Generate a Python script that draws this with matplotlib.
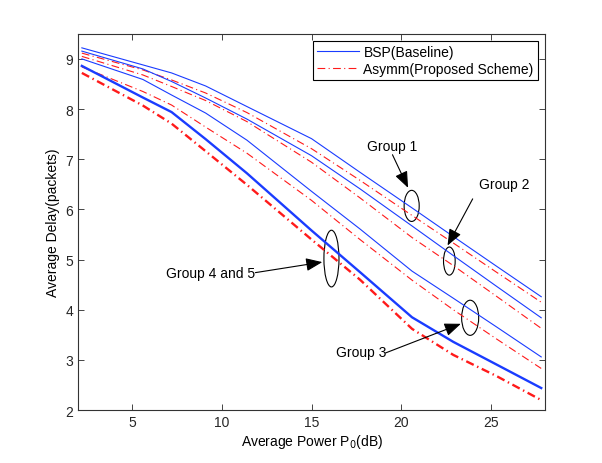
import matplotlib
matplotlib.use("Agg")
import matplotlib.pyplot as plt
from matplotlib.patches import Ellipse

plt.rcParams['font.family'] = ['Liberation Sans', 'DejaVu Sans']
plt.rcParams['font.size'] = 10

# average power P0 (dB)
power = [2.2, 5.6, 7.2, 9.1, 11.4, 15.0, 17.7, 20.6, 22.9, 25.3, 27.8]

# average delay (packets), BSP baseline
bsp_g1 = [9.22, 8.88, 8.72, 8.46, 8.05, 7.41, 6.74, 6.03, 5.46, 4.87, 4.26]
bsp_g2 = [9.155, 8.80, 8.55, 8.22, 7.80, 7.07, 6.41, 5.67, 5.08, 4.47, 3.84]
bsp_g3 = [9.00, 8.59, 8.28, 7.92, 7.38, 6.36, 5.61, 4.77, 4.23, 3.66, 3.06]
bsp_g45 = [8.86, 8.23, 7.94, 7.40, 6.72, 5.58, 4.75, 3.85, 3.36, 2.91, 2.44]

# average delay (packets), Asymm proposed scheme
asy_g1 = [9.115, 8.78, 8.58, 8.32, 7.93, 7.21, 6.58, 5.88, 5.33, 4.75, 4.15]
asy_g2 = [9.05, 8.68, 8.45, 8.17, 7.75, 6.94, 6.23, 5.44, 4.88, 4.27, 3.63]
asy_g3 = [8.84, 8.35, 8.08, 7.64, 7.12, 6.18, 5.40, 4.59, 4.00, 3.42, 2.83]
asy_g45 = [8.72, 8.07, 7.71, 7.16, 6.49, 5.40, 4.60, 3.62, 3.10, 2.68, 2.20]

fig = plt.figure(figsize=(6.02, 4.64), dpi=100)
ax = fig.add_axes([0.13, 0.114, 0.775, 0.811])

dashdot = (0, (7, 3, 1, 3))
dashdot_thick = (0, (3.5, 1.6, 0.6, 1.6))

ax.plot(power, bsp_g1, color='#1a3cff', lw=0.8, label='BSP(Baseline)')
ax.plot(power, asy_g1, color='#ff1a1a', lw=0.8, ls=dashdot, label='Asymm(Proposed Scheme)')
ax.plot(power, bsp_g2, color='#1a3cff', lw=0.8)
ax.plot(power, asy_g2, color='#ff1a1a', lw=0.8, ls=dashdot)
ax.plot(power, bsp_g3, color='#1a3cff', lw=0.8)
ax.plot(power, asy_g3, color='#ff1a1a', lw=0.8, ls=dashdot)
ax.plot(power, bsp_g45, color='#1a3cff', lw=1.7)
ax.plot(power, asy_g45, color='#ff1a1a', lw=1.7, ls=dashdot_thick)

ax.set_xlim(2, 28)
ax.set_ylim(2, 9.5)
ax.set_xticks([5, 10, 15, 20, 25])
ax.set_yticks([2, 3, 4, 5, 6, 7, 8, 9])
ax.tick_params(direction='in', top=True, right=True, length=4, width=0.6, colors='0.15')
for s in ax.spines.values():
    s.set_color('0.2')
    s.set_linewidth(0.8)

ax.set_xlabel('Average Power P$_0$(dB)', labelpad=2)
ax.set_ylabel('Average Delay(packets)', labelpad=4)

leg = ax.legend(loc='upper right', fancybox=False, edgecolor='k', framealpha=1,
                handlelength=3.0, handletextpad=0.35, labelspacing=0.2,
                borderpad=0.3, borderaxespad=0.5)
leg.get_frame().set_linewidth(0.8)

# group ellipses
ellipses = [(20.58, 6.07, 0.84, 0.62), (22.68, 4.97, 0.65, 0.56),
            (23.84, 3.84, 0.95, 0.70), (16.11, 5.02, 0.84, 1.13)]
for cx, cy, w, h in ellipses:
    ax.add_patch(Ellipse((cx, cy), w, h, fill=False, edgecolor='k', lw=0.8))

arrow = dict(arrowstyle='-|>,head_length=1.0,head_width=0.4', color='k', lw=0.8,
             shrinkA=0, shrinkB=0)

ax.text(19.51, 7.26, 'Group 1', ha='center', va='center')
ax.annotate('', xy=(20.38, 6.43), xytext=(19.51, 7.09), arrowprops=arrow)

ax.text(25.74, 6.50, 'Group 2', ha='center', va='center')
ax.annotate('', xy=(22.58, 5.28), xytext=(23.98, 6.21), arrowprops=arrow)

ax.text(17.74, 3.16, 'Group 3', ha='center', va='center')
ax.annotate('', xy=(23.32, 3.72), xytext=(19.13, 3.14), arrowprops=arrow)

ax.text(9.40, 4.735, 'Group 4 and 5', ha='center', va='center')
ax.annotate('', xy=(15.6, 4.95), xytext=(11.87, 4.74), arrowprops=arrow)

plt.savefig('out.png', dpi=100)
